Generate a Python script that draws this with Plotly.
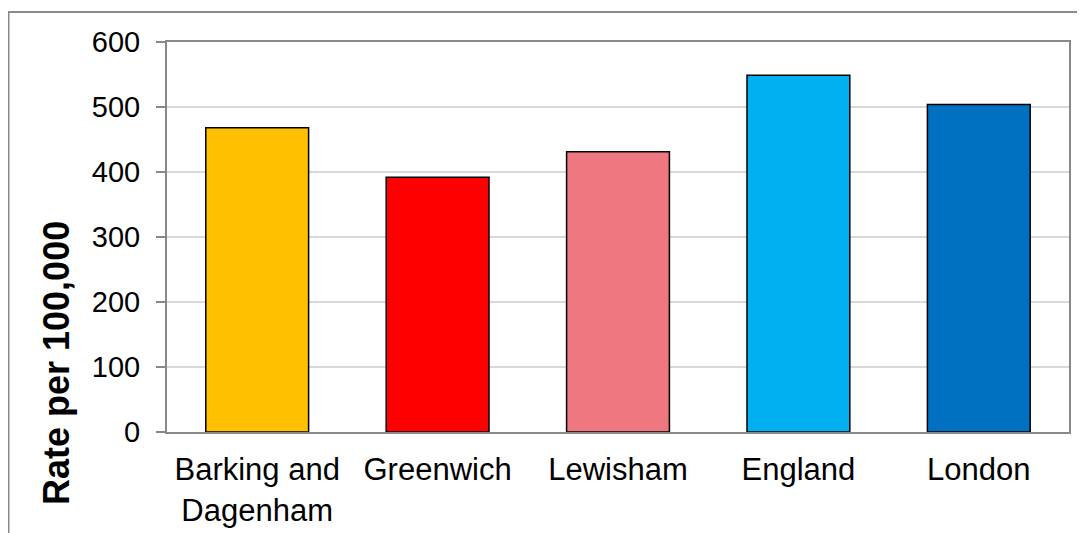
import plotly.graph_objects as go

categories = ["Barking and<br>Dagenham", "Greenwich", "Lewisham", "England", "London"]
values = [468, 392, 431, 549, 504]
colors = ["#FFC000", "#FF0000", "#EE7780", "#00B0F0", "#0070C0"]
y_title = "Rate per 100,000"

# page has an 8px body margin, so the figure is sized to fit the 1085x533 window
W, H = 1077, 525
L, T, R, B = 159, 34, 16, 101
pw, ph = W - L - R, H - T - B

fig = go.Figure(go.Bar(
    x=categories, y=values,
    marker=dict(color=colors, line=dict(color="#000000", width=1.5)),
    width=0.57,
))

fig.update_layout(
    width=W, height=H,
    margin=dict(l=L, r=R, t=T, b=B, pad=0, autoexpand=False),
    paper_bgcolor="white", plot_bgcolor="white",
    font=dict(family="Liberation Sans, Arial, sans-serif", size=30, color="#000000"),
    showlegend=False,
    xaxis=dict(
        showline=True, linecolor="#898989", linewidth=2, mirror=True,
        ticks="", tickfont=dict(size=31), showgrid=False,
        ticklabelstandoff=9, automargin=False,
    ),
    yaxis=dict(
        range=[0, 600], dtick=100,
        showline=True, linecolor="#898989", linewidth=2, mirror=True,
        ticks="outside", ticklen=9, tickcolor="#898989", tickwidth=2,
        showgrid=True, gridcolor="#D9D9D9", gridwidth=1.5,
        tickfont=dict(size=29), zeroline=False,
        ticklabelstandoff=10, automargin=False,
    ),
    annotations=[dict(
        text="<b>" + y_title + "</b>", textangle=-90,
        xref="paper", yref="paper",
        x=(48 - L) / pw, y=(H - B - 355) / ph,
        xanchor="center", yanchor="middle", showarrow=False,
        font=dict(size=36, color="#000000"),
    )],
    shapes=[dict(
        type="rect", xref="paper", yref="paper",
        x0=(0.5 - L) / pw, y0=(H - B - 600) / ph,
        x1=(1100 - L) / pw, y1=(H - B - 4) / ph,
        line=dict(color="#898989", width=2), fillcolor="rgba(0,0,0,0)",
        layer="below",
    )],
)

fig.write_html("out.html")
